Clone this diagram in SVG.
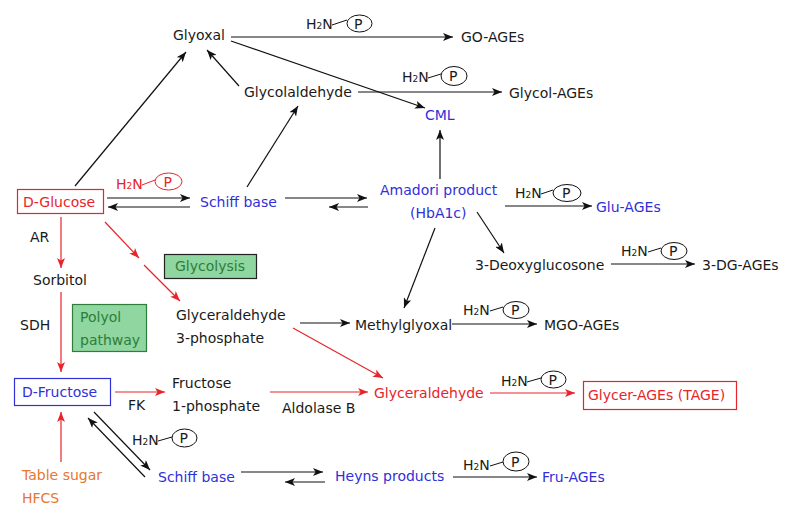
<svg xmlns="http://www.w3.org/2000/svg" width="800" height="519" viewBox="0 0 800 519">
<defs>
<marker id="ab" markerUnits="userSpaceOnUse" markerWidth="11" markerHeight="8" refX="10" refY="4" orient="auto"><path d="M0,0 L10,4 L0,8 L2.5,4 z" fill="#111"/></marker>
<marker id="ar" markerUnits="userSpaceOnUse" markerWidth="11" markerHeight="8" refX="10" refY="4" orient="auto"><path d="M0,0 L10,4 L0,8 L2.5,4 z" fill="#e8242a"/></marker>
<style>
text{font-family:"DejaVu Sans","Liberation Sans",sans-serif;font-size:14px;fill:#1a1a1a}
.b{fill:#3030d8}
.r{fill:#e8242a}
.o{fill:#e8762d}
.g{fill:#2e7d3a}
.k{stroke:#111;stroke-width:1.2;fill:none;marker-end:url(#ab)}
.kr{stroke:#e8242a;stroke-width:1.2;fill:none;marker-end:url(#ar)}
.pl{stroke:#111;stroke-width:1;fill:none}
.pr{stroke:#e8242a;stroke-width:1;fill:none}
.sub{font-size:9px}
</style>
</defs>
<rect width="800" height="519" fill="#fff"/>

<g id="connectors">
<line class="k" x1="231" y1="37" x2="453" y2="37"/>
<line class="k" x1="231" y1="41" x2="425" y2="108"/>
<line class="k" x1="239" y1="86" x2="207" y2="50"/>
<line class="k" x1="358" y1="92" x2="502" y2="92"/>
<line class="k" x1="440" y1="179" x2="440" y2="130"/>
<line class="k" x1="75" y1="186" x2="186" y2="52"/>
<line class="k" x1="247" y1="187" x2="298" y2="106"/>
<line class="k" x1="107" y1="198" x2="190" y2="198"/>
<line class="k" x1="190" y1="207" x2="108" y2="207"/>
<line class="k" x1="285" y1="198" x2="367" y2="198"/>
<line class="k" x1="368" y1="207" x2="329" y2="207"/>
<line class="k" x1="505" y1="206" x2="592" y2="206"/>
<line class="k" x1="477" y1="212" x2="504" y2="253"/>
<line class="k" x1="611" y1="264" x2="695" y2="264"/>
<line class="k" x1="435" y1="228" x2="404" y2="308"/>
<line class="k" x1="452" y1="324" x2="537" y2="324"/>
<line class="k" x1="300" y1="323" x2="350" y2="323"/>
<line class="kr" x1="61" y1="217" x2="61" y2="268"/>
<line class="kr" x1="61" y1="292" x2="61" y2="372"/>
<line class="kr" x1="105" y1="222" x2="139" y2="258"/>
<line class="kr" x1="144" y1="265" x2="180" y2="301"/>
<line class="kr" x1="293" y1="328" x2="383" y2="378"/>
<line class="kr" x1="115" y1="392" x2="165" y2="392"/>
<line class="kr" x1="270" y1="392" x2="368" y2="392"/>
<line class="kr" x1="490" y1="393" x2="575" y2="393"/>
<line class="kr" x1="61" y1="462" x2="61" y2="412"/>
<line class="k" x1="94" y1="412" x2="150" y2="470"/>
<line class="k" x1="145" y1="477" x2="88" y2="418"/>
<line class="k" x1="241" y1="472" x2="323" y2="472"/>
<line class="k" x1="325" y1="482" x2="285" y2="482"/>
<line class="k" x1="453" y1="477" x2="537" y2="477"/>
</g>

<g id="h2n-go"><text x="306" y="29">H<tspan class="sub">2</tspan>N</text><path class="pl" d="M332,25 L347,20"/><ellipse class="pl" cx="359.5" cy="23.5" rx="12.5" ry="8.5"/><text x="354" y="29">P</text></g>
<g id="h2n-glycol"><text x="402" y="82">H<tspan class="sub">2</tspan>N</text><path class="pl" d="M428,78 L441,74"/><ellipse class="pl" cx="454" cy="76" rx="13" ry="9.5"/><text x="449" y="81">P</text></g>
<g id="h2n-glucose"><text class="r" x="116" y="189">H<tspan class="sub">2</tspan>N</text><path class="pr" d="M142,185 L155,180"/><ellipse class="pr" cx="168.5" cy="181.5" rx="13.5" ry="8.5"/><text class="r" x="163.5" y="187">P</text></g>
<g id="h2n-glu"><text x="515" y="198">H<tspan class="sub">2</tspan>N</text><path class="pl" d="M541,194 L553,190"/><ellipse class="pl" cx="567" cy="193" rx="14" ry="8.5"/><text x="562" y="198">P</text></g>
<g id="h2n-3dg"><text x="621" y="256">H<tspan class="sub">2</tspan>N</text><path class="pl" d="M648,252 L661,248"/><ellipse class="pl" cx="674" cy="251" rx="13" ry="8.5"/><text x="669" y="256">P</text></g>
<g id="h2n-mgo"><text x="463" y="315">H<tspan class="sub">2</tspan>N</text><path class="pl" d="M490,311 L503,307"/><ellipse class="pl" cx="516" cy="310" rx="13" ry="8.5"/><text x="511" y="315">P</text></g>
<g id="h2n-tage"><text x="501" y="386">H<tspan class="sub">2</tspan>N</text><path class="pl" d="M527,382 L541,378"/><ellipse class="pl" cx="553.5" cy="379.5" rx="12.5" ry="8.5"/><text x="548.5" y="385">P</text></g>
<g id="h2n-fruc"><text x="132" y="445">H<tspan class="sub">2</tspan>N</text><path class="pl" d="M158,441 L172,437"/><ellipse class="pl" cx="184.5" cy="438" rx="12.5" ry="9"/><text x="179.5" y="443">P</text></g>
<g id="h2n-fru"><text x="463" y="470">H<tspan class="sub">2</tspan>N</text><path class="pl" d="M490,466 L503,462"/><ellipse class="pl" cx="516" cy="461.5" rx="13" ry="9.5"/><text x="511" y="467">P</text></g>

<g id="glyoxal"><text x="173" y="40">Glyoxal</text></g>
<g id="go-ages"><text x="461" y="42">GO-AGEs</text></g>
<g id="glycolaldehyde"><text x="244" y="97">Glycolaldehyde</text></g>
<g id="glycol-ages"><text x="509" y="98">Glycol-AGEs</text></g>
<g id="cml"><text class="b" x="425" y="120">CML</text></g>
<g id="d-glucose"><rect x="17.5" y="189.5" width="86" height="24" fill="#fff" stroke="#e8242a" stroke-width="1.2"/><text class="r" x="23" y="207">D-Glucose</text></g>
<g id="schiff1"><text class="b" x="200" y="207">Schiff base</text></g>
<g id="amadori"><text class="b" x="380" y="195">Amadori product</text><text class="b" x="410" y="218">(HbA1c)</text></g>
<g id="glu-ages"><text class="b" x="596" y="212">Glu-AGEs</text></g>
<g id="deoxy"><text x="475" y="270">3-Deoxyglucosone</text></g>
<g id="dg-ages"><text x="702" y="270">3-DG-AGEs</text></g>
<g id="ar-label"><text x="30" y="242">AR</text></g>
<g id="sorbitol"><text x="33" y="285">Sorbitol</text></g>
<g id="sdh"><text x="20" y="330">SDH</text></g>
<g id="glycolysis"><rect x="164.5" y="254.5" width="92" height="24" fill="#8fd6a0" stroke="#222" stroke-width="1.2"/><text class="g" x="175" y="271">Glycolysis</text></g>
<g id="polyol"><rect x="72.5" y="304.5" width="74" height="47" fill="#8fd6a0" stroke="#2e7d3a" stroke-width="1.2"/><text class="g" x="80" y="322">Polyol</text><text class="g" x="80" y="345">pathway</text></g>
<g id="g3p"><text x="176" y="320">Glyceraldehyde</text><text x="176" y="343">3-phosphate</text></g>
<g id="methylglyoxal"><text x="355" y="330">Methylglyoxal</text></g>
<g id="mgo-ages"><text x="544" y="330">MGO-AGEs</text></g>
<g id="d-fructose"><rect x="14.5" y="378.5" width="96" height="27" fill="#fff" stroke="#3030d8" stroke-width="1.2"/><text class="b" x="22" y="397">D-Fructose</text></g>
<g id="fk"><text x="128" y="410">FK</text></g>
<g id="f1p"><text x="172" y="388">Fructose</text><text x="172" y="411">1-phosphate</text></g>
<g id="aldolase"><text x="282" y="413">Aldolase B</text></g>
<g id="glyceraldehyde"><text class="r" x="374" y="398">Glyceraldehyde</text></g>
<g id="tage"><rect x="583.5" y="381.5" width="153" height="28" fill="#fff" stroke="#e8242a" stroke-width="1.2"/><text class="r" x="588" y="400">Glycer-AGEs (TAGE)</text></g>
<g id="table-sugar"><text class="o" x="22" y="480">Table sugar</text><text class="o" x="22" y="503">HFCS</text></g>
<g id="schiff2"><text class="b" x="158" y="482">Schiff base</text></g>
<g id="heyns"><text class="b" x="335" y="481">Heyns products</text></g>
<g id="fru-ages"><text class="b" x="542" y="482">Fru-AGEs</text></g>
</svg>
